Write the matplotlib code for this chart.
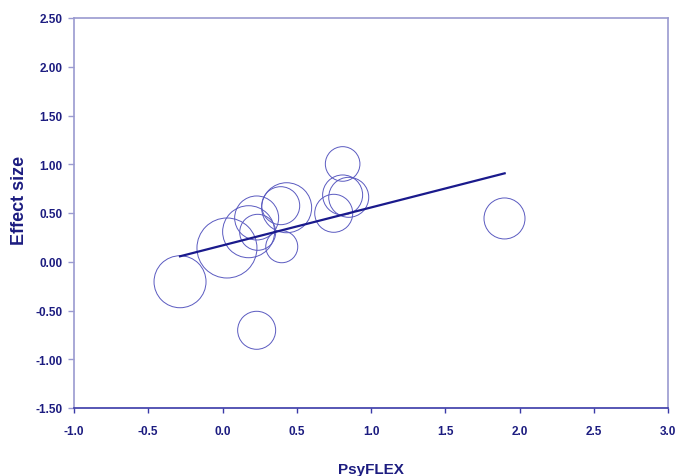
import matplotlib
matplotlib.use("Agg")
import matplotlib.pyplot as plt
import numpy as np

# study-level points (PsyFLEX vs effect size)
psyflex = [-0.286, 0.030, 0.176, 0.230, 0.237, 0.399, 0.392, 0.432,
           0.809, 0.809, 0.850, 0.749, 1.899, 0.230]
effect = [-0.205, 0.141, 0.308, 0.449, 0.302, 0.154, 0.575, 0.554,
          1.003, 0.685, 0.661, 0.497, 0.444, -0.703]
# relative study weights (drives bubble size)
weights = [26, 30, 26, 22, 18, 16, 19, 25, 17.3, 20, 20, 19, 20.5, 19]

# fitted regression line
fit_x = [-0.286, 1.90]
fit_y = [0.056, 0.907]

xticks = [-1.0, -0.5, 0.0, 0.5, 1.0, 1.5, 2.0, 2.5, 3.0]
yticks = [-1.5, -1.0, -0.5, 0.0, 0.5, 1.0, 1.5, 2.0, 2.5]

NAVY = "#1c1c80"
LIGHT = "#9a9ad0"
DARK = "#3a3aa8"

plt.rcParams["font.family"] = ["Liberation Sans", "DejaVu Sans"]

fig = plt.figure(figsize=(6.78, 4.77), dpi=100)
ax = fig.add_axes([74 / 678, 1 - 409 / 477, 594 / 678, 390 / 477])

# bubble radius in pixels -> marker area in points^2
px2pt = 72 / fig.dpi
sizes = [(2 * w * px2pt) ** 2 for w in weights]
ax.scatter(psyflex, effect, s=sizes, facecolors="none", edgecolors="#5a5ac0",
           linewidths=0.7, zorder=3)
ax.plot(fit_x, fit_y, color="#1a1a8c", lw=1.6, zorder=4)

ax.set_xlim(-1.0, 3.0)
ax.set_ylim(-1.5, 2.5)
ax.set_xticks(xticks)
ax.set_xticklabels([f"{v:.1f}" for v in xticks])
ax.set_yticks(yticks)
ax.set_yticklabels([f"{v:.2f}" for v in yticks])

for side in ["left", "top", "right"]:
    ax.spines[side].set_color(LIGHT)
    ax.spines[side].set_linewidth(1.2)
ax.spines["bottom"].set_color(DARK)
ax.spines["bottom"].set_linewidth(1.2)

ax.tick_params(axis="y", direction="out", length=4.5, width=1, color=LIGHT,
               pad=4, labelsize=8.5, labelcolor=NAVY)
ax.tick_params(axis="x", direction="out", length=3.5, width=1, color=DARK,
               pad=9, labelsize=8.5, labelcolor=NAVY)
for lab in ax.get_xticklabels() + ax.get_yticklabels():
    lab.set_fontweight("bold")

ax.set_xlabel("PsyFLEX", fontsize=11, fontweight="bold", color=NAVY, labelpad=18)
ax.set_ylabel("Effect size", fontsize=13, fontweight="bold", color=NAVY)
ax.yaxis.set_label_coords(-0.078, 0.536)

fig.savefig("out.png", dpi=100)
